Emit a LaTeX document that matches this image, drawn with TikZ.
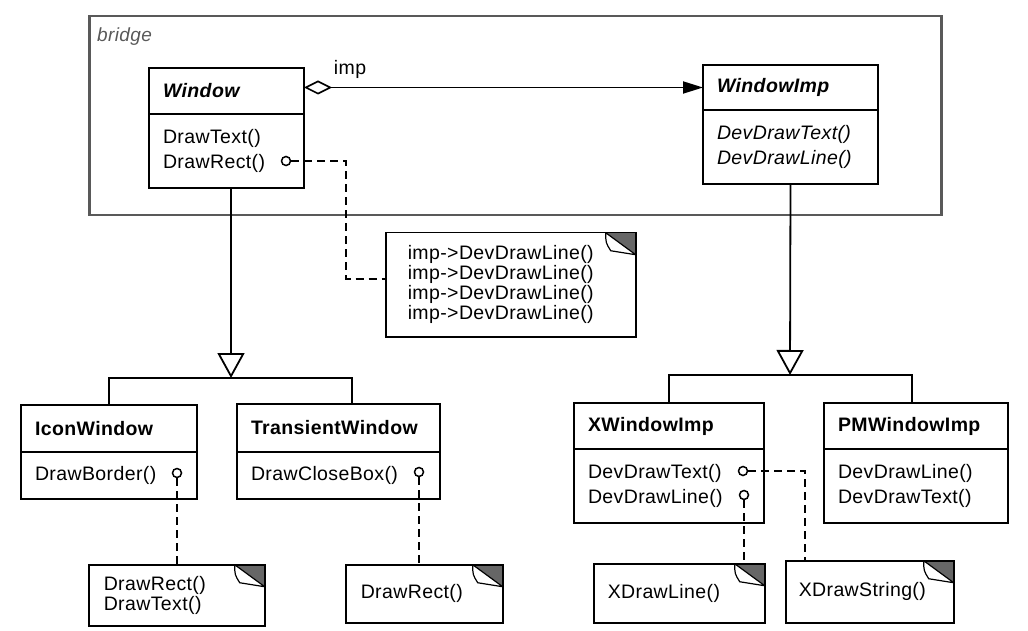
\documentclass[tikz,border=0pt]{standalone}
\usepackage{fontspec}
\setmainfont[LetterSpace=2]{Liberation Sans}
\usetikzlibrary{arrows.meta,positioning}

\begin{document}
\begin{tikzpicture}[x=1pt, y=-1pt,
  line/.style={line width=1.8pt},
  cls/.style={draw, line width=1.8pt, outer sep=0pt, inner xsep=14pt, inner ysep=2pt,
    text width=#1, align=left, font=\fontsize{19.5}{25}\selectfont},
  title/.style={cls=#1, anchor=north west, minimum height=46pt,
    font=\fontsize{19.5}{25}\selectfont\bfseries},
  ops/.style={cls=#1, minimum height=74pt},
  port/.style={circle, draw, fill=white, line width=1.5pt, minimum size=9pt, inner sep=0pt},
  dep/.style={line width=1.5pt, dash pattern=on 8pt off 5pt},
  agg/.style={line, {Diamond[open, length=28pt, width=14pt, line width=1.6pt]}-{Triangle[length=20pt, width=12pt]}},
  gen/.style={line, -{Triangle[open, length=25pt, width=27pt]}},
  note/.style={draw, line width=1.5pt, anchor=north west, inner xsep=#1, align=left,
    font=\fontsize{19.5}{20}\selectfont,
    path picture={
      \coordinate (ne) at (path picture bounding box.north east);
      \fill[black!60] ([xshift=-30pt]ne) -- (ne) -- ([yshift=-22pt]ne) -- cycle;
      \filldraw[fill=white, line width=1.2pt] ([xshift=-30pt]ne)
        .. controls ([xshift=-30pt,yshift=-10pt]ne) .. ([xshift=-25pt,yshift=-18pt]ne)
        -- ([yshift=-22pt]ne) -- cycle;
    }},
  lbl/.style={font=\fontsize{19.5}{20}\selectfont, inner sep=0pt}
]
% bridge frame
\node[draw=black!65, line width=2.5pt, anchor=north west, minimum width=852pt,
  minimum height=199pt] (bridge) at (88,15) {};
\node[lbl, anchor=base west, text=black!65, font=\fontsize{19}{20}\selectfont\itshape]
  (bridge-lbl) at (97,42) {bridge};

% Abstraction side
\node[title=127] (win) at (149,68) {\itshape Window};
\node[ops=127, below=0pt of win] (win-ops) {DrawText()\\DrawRect()};
\node[port] (win-p) at (286,161) {};

% Implementor side
\node[title=147, minimum height=45pt] (imp) at (703,65) {\itshape WindowImp};
\node[ops=147, below=0pt of imp, font=\fontsize{19.5}{25}\selectfont\itshape] (imp-ops)
  {DevDrawText()\\DevDrawLine()};

\draw[agg] ([yshift=3.5pt]win.east) -- ([yshift=3.5pt]win.east -| imp.west)
  node[lbl, pos=0, anchor=base west, xshift=29pt, yshift=13pt] {imp};

% implementation note
\node[note=22pt, text width=206pt, minimum height=104pt] (impl-note) at (385,232)
  {imp->DevDrawLine()\\imp->DevDrawLine()\\imp->DevDrawLine()\\imp->DevDrawLine()};
\draw[dep] (win-p.east) -| ([xshift=-39pt,yshift=6pt]impl-note.west)
  -- ([yshift=6pt]impl-note.west);

% Refined abstractions
\node[title=148, minimum height=47pt] (icon) at (21,405) {IconWindow};
\node[ops=148, below=0pt of icon, minimum height=47pt] (icon-ops) {DrawBorder()};
\node[title=175, minimum height=48pt] (trans) at (237,404) {TransientWindow};
\node[ops=175, below=0pt of trans, minimum height=47pt] (trans-ops) {DrawCloseBox()};
\node[port] (icon-p) at (177,473) {};
\node[port] (trans-p) at (419,472) {};

\coordinate (winfork) at (231,378);
\coordinate (trans-drop) at (352,404);
\draw[gen] (win-ops.south -| winfork) -- (winfork);
\draw[line] (icon.north) |- (winfork) -| (trans-drop);

\node[note=15pt, text width=146pt, minimum height=61pt] (icon-note) at (88,564)
  {DrawRect()\\DrawText()};
\node[note=15pt, text width=127pt, minimum height=58pt] (trans-note) at (345,564)
  {DrawRect()};
\draw[dep] (icon-p.south) -- (icon-p.south |- icon-note.north);
\draw[dep] (trans-p.south) -- (trans-p.south |- trans-note.north);

% Concrete implementors
\node[title=162] (xwin) at (574,403) {XWindowImp};
\node[ops=162, below=0pt of xwin] (xwin-ops) {DevDrawText()\\DevDrawLine()};
\node[title=156] (pm) at (824,403) {PMWindowImp};
\node[ops=156, below=0pt of pm] (pm-ops) {DevDrawLine()\\DevDrawText()};
\node[port] (xt-p) at (743,471) {};
\node[port] (xl-p) at (744,495) {};

\coordinate (impfork) at (790,375);
\draw[gen] (imp-ops.south) -- (impfork);
\draw[line] (xwin.north) |- (impfork) -| ([xshift=-4pt]pm.north);

\node[note=14pt, text width=143pt, minimum height=59pt] (xline-note) at (593,563)
  {XDrawLine()};
\node[note=13pt, text width=142pt, minimum height=62pt] (xstr-note) at (785,560)
  {XDrawString()};
\draw[dep] (xt-p.east) -| ([xshift=20pt]xstr-note.north west);
\draw[dep] (xl-p.south) -- (xl-p.south |- xline-note.north);

\useasboundingbox (0,0) rectangle (1028,631);
\end{tikzpicture}
\end{document}
